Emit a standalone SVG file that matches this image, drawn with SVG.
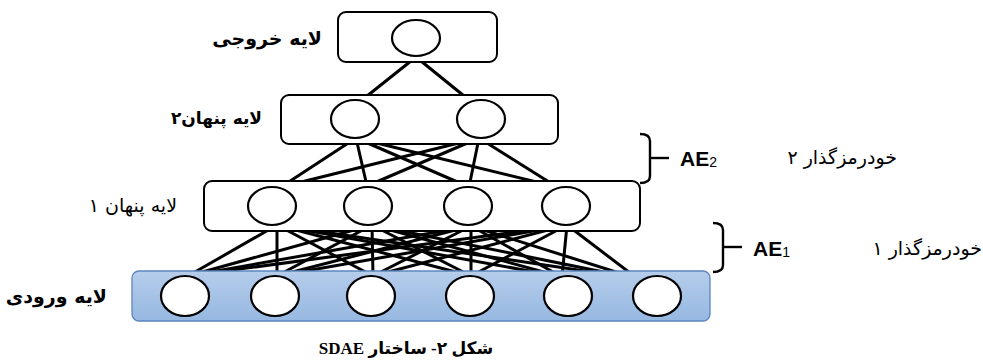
<svg xmlns="http://www.w3.org/2000/svg" width="983" height="362" viewBox="0 0 983 362">
  <style>
    .layer { fill: #ffffff; stroke: #000000; stroke-width: 2; }
    .neuron { fill: #ffffff; stroke: #000000; stroke-width: 2.2; }
    .edge { stroke: #000000; stroke-width: 3; stroke-linecap: round; fill: none; }
    .brace { stroke: #000000; stroke-width: 2.4; fill: none; }
    .fa { font-family: "DejaVu Sans", "Noto Sans", sans-serif; font-size: 19px; fill: #000000; }
    .fa-small { font-size: 17px; }
    .ae { font-family: "Liberation Sans", Arial, sans-serif; font-size: 21px; font-weight: bold; fill: #000000; }
    .sub { font-size: 14px; font-weight: normal; }
    .caption { font-family: "Liberation Serif", "DejaVu Sans", serif; font-size: 17px; font-weight: bold; fill: #000000; }
  </style>
  <defs>
    <linearGradient id="inputFill" x1="0" y1="0" x2="0" y2="1">
      <stop offset="0" stop-color="#b6cdeb"/>
      <stop offset="1" stop-color="#96b8e1"/>
    </linearGradient>
  </defs>

  <!-- weighted connections between layers -->
  <g id="connectors">
    <!-- output -> hidden 2 -->
    <line class="edge" x1="416" y1="57" x2="362" y2="100"/>
    <line class="edge" x1="416" y1="57" x2="469" y2="100"/>
    <!-- hidden 2 -> hidden 1 -->
    <line class="edge" x1="356" y1="138" x2="281" y2="187"/>
    <line class="edge" x1="356" y1="138" x2="367" y2="186"/>
    <line class="edge" x1="356" y1="138" x2="469" y2="187"/>
    <line class="edge" x1="356" y1="138" x2="557" y2="187"/>
    <line class="edge" x1="479" y1="138" x2="281" y2="187"/>
    <line class="edge" x1="479" y1="138" x2="367" y2="186"/>
    <line class="edge" x1="479" y1="138" x2="469" y2="187"/>
    <line class="edge" x1="479" y1="138" x2="557" y2="187"/>
    <!-- hidden 1 -> input -->
    <line class="edge" x1="277" y1="225" x2="188" y2="276"/>
    <line class="edge" x1="277" y1="225" x2="277" y2="276"/>
    <line class="edge" x1="277" y1="225" x2="373" y2="276"/>
    <line class="edge" x1="277" y1="225" x2="471" y2="276"/>
    <line class="edge" x1="277" y1="225" x2="562" y2="277"/>
    <line class="edge" x1="277" y1="225" x2="638" y2="279"/>
    <line class="edge" x1="372" y1="225" x2="188" y2="276"/>
    <line class="edge" x1="372" y1="225" x2="277" y2="276"/>
    <line class="edge" x1="372" y1="225" x2="373" y2="276"/>
    <line class="edge" x1="372" y1="225" x2="471" y2="276"/>
    <line class="edge" x1="372" y1="225" x2="562" y2="277"/>
    <line class="edge" x1="372" y1="225" x2="638" y2="279"/>
    <line class="edge" x1="471" y1="226" x2="188" y2="276"/>
    <line class="edge" x1="471" y1="226" x2="277" y2="276"/>
    <line class="edge" x1="471" y1="226" x2="373" y2="276"/>
    <line class="edge" x1="471" y1="226" x2="471" y2="276"/>
    <line class="edge" x1="471" y1="226" x2="562" y2="277"/>
    <line class="edge" x1="471" y1="226" x2="638" y2="279"/>
    <line class="edge" x1="567" y1="225" x2="188" y2="276"/>
    <line class="edge" x1="567" y1="225" x2="277" y2="276"/>
    <line class="edge" x1="567" y1="225" x2="373" y2="276"/>
    <line class="edge" x1="567" y1="225" x2="471" y2="276"/>
    <line class="edge" x1="567" y1="225" x2="562" y2="277"/>
    <line class="edge" x1="567" y1="225" x2="638" y2="279"/>
  </g>

  <!-- output layer -->
  <g id="output-layer">
    <rect class="layer" x="338" y="12" width="159" height="50" rx="8"/>
    <ellipse class="neuron" cx="416" cy="38" rx="24" ry="18"/>
    <text class="fa" x="322" y="45" direction="rtl" text-anchor="start" font-weight="bold">لایه خروجی</text>
  </g>

  <!-- hidden layer 2 -->
  <g id="hidden-layer-2">
    <rect class="layer" x="281" y="95" width="277" height="49" rx="8"/>
    <ellipse class="neuron" cx="355" cy="119" rx="24" ry="19"/>
    <ellipse class="neuron" cx="481" cy="119" rx="24" ry="19"/>
    <text class="fa fa-small" x="262" y="124" direction="rtl" text-anchor="start" font-weight="bold">لایه پنهان۲</text>
  </g>

  <!-- hidden layer 1 -->
  <g id="hidden-layer-1">
    <rect class="layer" x="204" y="181" width="436" height="50" rx="8"/>
    <ellipse class="neuron" cx="272" cy="206" rx="24" ry="19"/>
    <ellipse class="neuron" cx="368" cy="206" rx="24" ry="19"/>
    <ellipse class="neuron" cx="468" cy="206" rx="24" ry="19"/>
    <ellipse class="neuron" cx="566" cy="206" rx="24" ry="19"/>
    <text class="fa" x="177" y="212" direction="rtl" text-anchor="start">لایه پنهان ۱</text>
  </g>

  <!-- input layer -->
  <g id="input-layer">
    <rect x="132" y="271" width="578" height="50" rx="7" fill="url(#inputFill)" stroke="#5b86bf" stroke-width="1.3"/>
    <ellipse class="neuron" cx="185" cy="296" rx="24" ry="20"/>
    <ellipse class="neuron" cx="275" cy="296" rx="24" ry="20"/>
    <ellipse class="neuron" cx="371" cy="296" rx="24" ry="20"/>
    <ellipse class="neuron" cx="470" cy="296" rx="24" ry="20"/>
    <ellipse class="neuron" cx="568" cy="296" rx="24" ry="20"/>
    <ellipse class="neuron" cx="657" cy="296" rx="24" ry="20"/>
    <text class="fa" x="107" y="303" direction="rtl" text-anchor="start" font-weight="bold">لایه ورودی</text>
  </g>

  <!-- autoencoder 2 bracket -->
  <g id="autoencoder-2">
    <path class="brace" d="M640,134 Q650,134 650,141 L650,176 Q650,183 640,183"/>
    <line class="brace" x1="650" y1="158" x2="669" y2="158"/>
    <text class="ae" x="680" y="166">AE<tspan class="sub" dy="1">2</tspan></text>
    <text class="fa" x="897" y="164" direction="rtl" text-anchor="start">خودرمزگذار ۲</text>
  </g>

  <!-- autoencoder 1 bracket -->
  <g id="autoencoder-1">
    <path class="brace" d="M713,223 Q723,223 723,230 L723,265 Q723,272 713,272"/>
    <line class="brace" x1="723" y1="247" x2="742" y2="247"/>
    <text class="ae" x="753" y="256">AE<tspan class="sub" dy="1">1</tspan></text>
    <text class="fa" x="982" y="255" direction="rtl" text-anchor="start">خودرمزگذار ۱</text>
  </g>

  <!-- figure caption -->
  <text class="caption" x="406" y="354" direction="rtl" text-anchor="middle">شکل ۲- ساختار SDAE</text>
</svg>
